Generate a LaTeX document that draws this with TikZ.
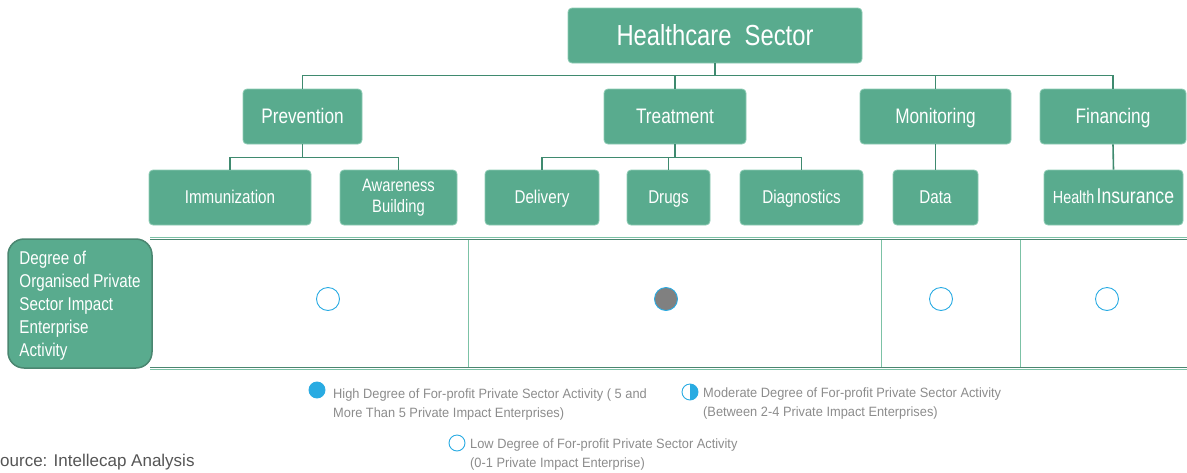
\documentclass[tikz,border=0pt]{standalone}
\usepackage{fontspec}
\setmainfont[FakeStretch=0.82]{Liberation Sans}
\newfontfamily\legfont[FakeStretch=0.95]{Liberation Sans}
\newfontfamily\srcfont{Liberation Sans}
\definecolor{boxgreen}{HTML}{59AB8E}
\definecolor{boxedge}{HTML}{8CCBB3}
\definecolor{conn}{HTML}{3F8A6F}
\definecolor{rowline}{HTML}{4A8670}
\definecolor{sepline}{HTML}{7CC2A6}
\definecolor{dotblue}{HTML}{29ABE2}
\definecolor{legtext}{HTML}{8C8C8C}
\definecolor{srctext}{HTML}{555555}
\begin{document}
\begin{tikzpicture}[x=1pt,y=-1pt,
  gbox/.style={rectangle,rounded corners=4pt,fill=boxgreen,draw=boxedge,line width=0.8pt,text=white,inner sep=0pt,align=center,minimum height=55pt},
  lvtwo/.style={gbox,font=\fontsize{21}{24}\selectfont,text height=17pt,text depth=3pt},
  lvthree/.style={gbox,font=\fontsize{18.5}{20}\selectfont,text height=14pt,text depth=3pt},
  cline/.style={draw=conn,line width=1.6pt},
  dot/.style={circle,draw=dotblue,line width=0.9pt,minimum size=23pt,inner sep=0pt},
  legdot/.style={circle,draw=dotblue,line width=0.9pt,minimum size=16pt,inner sep=0pt},
  legtxt/.style={text=legtext,align=left,anchor=north west,inner sep=0pt,font=\legfont\fontsize{13.5}{18.5}\selectfont}
]
\useasboundingbox (0,0) rectangle (1187,472);
% top level
\node[gbox,minimum width=294pt,font=\fontsize{29}{32}\selectfont] (hc) at (715,35.5) {Healthcare~ Sector};
% second level
\node[lvtwo,minimum width=119pt] (prev) at (302.5,116.5) {Prevention};
\node[lvtwo,minimum width=142pt] (treat) at (675,116.5) {Treatment};
\node[lvtwo,minimum width=151pt] (mon) at (935.5,116.5) {Monitoring};
\node[lvtwo,minimum width=146pt] (fin) at (1113,116.5) {Financing};
% third level
\node[lvthree,minimum width=162pt] (imm) at (230,197.5) {Immunization};
\node[gbox,minimum width=117pt,font=\fontsize{18}{21}\selectfont] (aw) at (398.5,197.5) {Awareness\\Building};
\node[lvthree,minimum width=114pt] (del) at (542,197.5) {Delivery};
\node[lvthree,minimum width=83pt] (drugs) at (668.5,197.5) {Drugs};
\node[lvthree,minimum width=123pt] (diag) at (801.5,197.5) {Diagnostics};
\node[lvthree,minimum width=85pt] (data) at (935.5,197.5) {Data};
\node[gbox,minimum width=139pt,text height=15pt,text depth=3pt] (hi) at (1113.5,197.5) {{\fontsize{17.5}{20}\selectfont Health} {\fontsize{21.5}{20}\selectfont Insurance}};
% connectors level 1
\draw[cline] (hc.south) -- ++(0,12) -| (prev.north);
\draw[cline] (hc.south) -- ++(0,12) -| (treat.north);
\draw[cline] (hc.south) -- ++(0,12) -| (mon.north);
\draw[cline] (hc.south) -- ++(0,12) -| (fin.north);
% connectors level 2
\draw[cline] (prev.south) -- ++(0,13) -| (imm.north);
\draw[cline] (prev.south) -- ++(0,13) -| (aw.north);
\draw[cline] (treat.south) -- ++(0,13) -| (del.north);
\draw[cline] (treat.south) -- ++(0,13) -| (drugs.north);
\draw[cline] (treat.south) -- ++(0,13) -| (diag.north);
\draw[cline] (mon.south) -- (data.north);
\draw[cline] (fin.south) -- (hi.north);
% table row
\draw[sepline,line width=1pt] (150,237.5) -- (1187,237.5);
\draw[rowline,line width=1.8pt] (150,239.5) -- (1187,239.5);
\draw[rowline,line width=1.8pt] (150,367.5) -- (1187,367.5);
\draw[sepline,line width=1pt] (150,369.5) -- (1187,369.5);
\draw[sepline,line width=1pt] (468,240) -- (468,367);
\draw[sepline,line width=1pt] (881,240) -- (881,367);
\draw[sepline,line width=1pt] (1020,240) -- (1020,367);
\node[rectangle,rounded corners=16pt,fill=boxgreen,draw=rowline,line width=1.5pt,text=white,
  minimum width=144pt,minimum height=129pt,inner xsep=11.5pt,inner ysep=0pt,text width=121pt,
  align=flush left,font=\fontsize{18.5}{23}\selectfont,text height=16pt,text depth=94pt] (deg) at (80,303.5)
  {Degree of\\Organised\ Private\\Sector Impact\\Enterprise\\Activity};
% circles
\node[dot] (c1) at (328,299) {};
\node[dot,fill=gray] (c2) at (666,299) {};
\node[dot] (c3) at (941,299) {};
\node[dot] (c4) at (1107,299) {};
% legend
\node[legdot,fill=dotblue] (lh) at (317,390) {};
\node[legtxt] (lht) at (333,389) {High Degree of For-profit Private Sector Activity ( 5 and\\More Than 5 Private Impact Enterprises)};
\fill[dotblue] (690,392) ++(0,-8) arc[start angle=-90,end angle=90,radius=8] -- cycle;
\node[legdot] (lm) at (690,392) {};
\node[legtxt] (lmt) at (703,388) {Moderate Degree of For-profit Private Sector Activity\\(Between 2-4 Private Impact Enterprises)};
\node[legdot] (ll) at (457,443) {};
\node[legtxt] (llt) at (470,439) {Low Degree of For-profit Private Sector Activity\\(0-1 Private Impact Enterprise)};
% source
\node[anchor=west,inner sep=0pt,text=srctext,font=\srcfont\fontsize{17}{20}\selectfont] (src) at (0,462) {ource: Intellecap Analysis};
\end{tikzpicture}
\end{document}
